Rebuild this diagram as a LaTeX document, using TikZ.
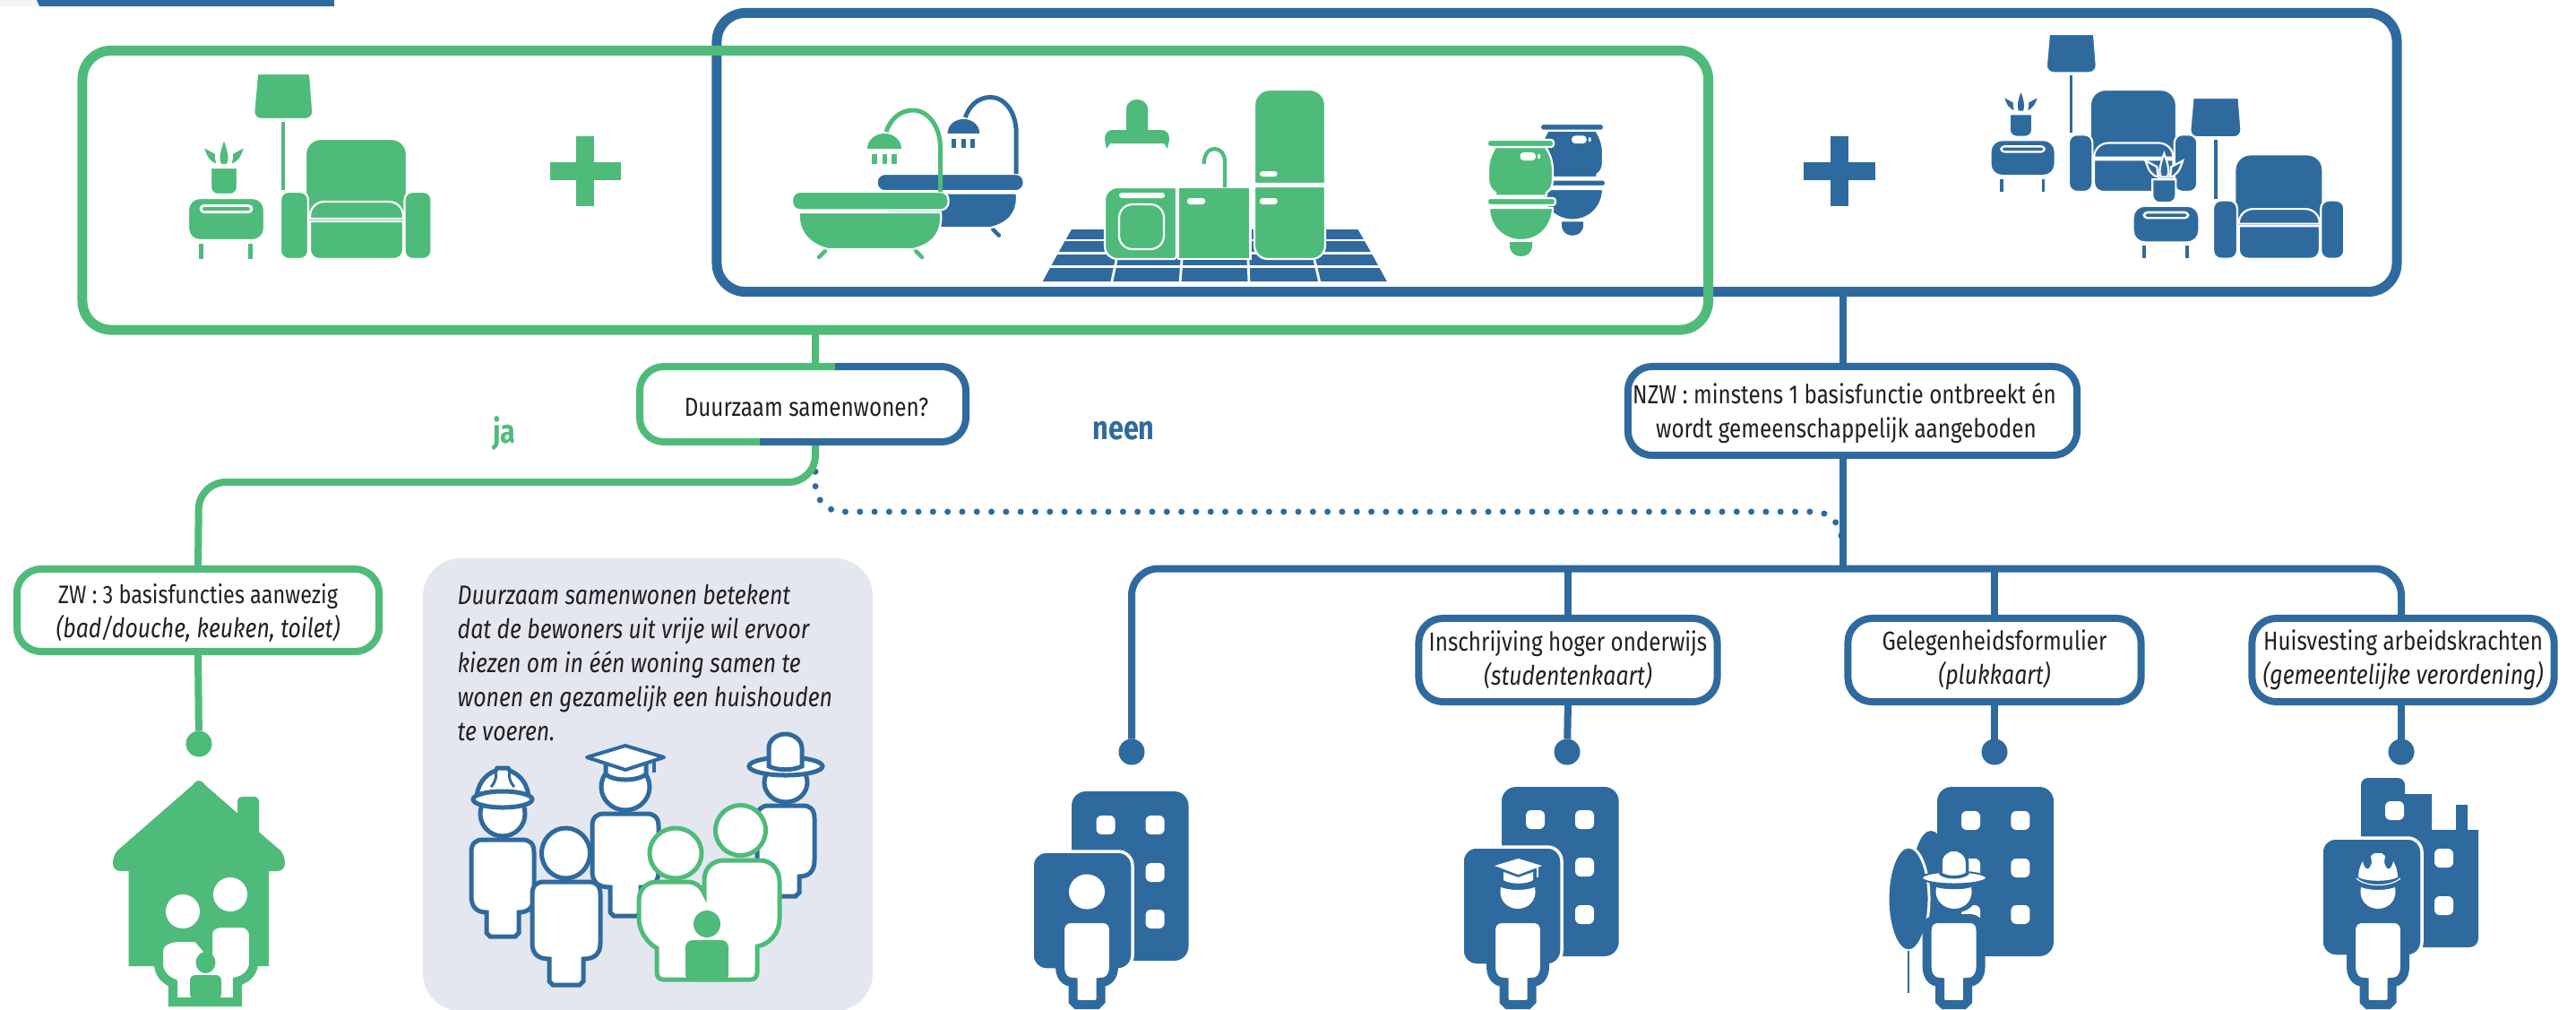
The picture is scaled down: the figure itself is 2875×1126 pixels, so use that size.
\documentclass[tikz,border=0pt]{standalone}
\usepackage{fontspec}
\setmainfont[FakeStretch=0.83]{Fira Sans}
\definecolor{gr}{HTML}{4FBB7A}
\definecolor{bl}{HTML}{2F6A9E}
\definecolor{pan}{HTML}{E4E7EF}
\definecolor{ink}{HTML}{231F20}
\colorlet{ic}{gr}
\newcommand{\ital}[1]{{\fontsize{8.5}{10.8}\selectfont\itshape #1}}
\newcommand{\lowr}{\rule{0pt}{8pt}}
\tikzset{
  icf/.style={fill=ic,draw=white,line width=.022cm},
  whf/.style={fill=white,draw=none},
  gline/.style={draw=gr,line width=.08cm},
  bline/.style={draw=bl,line width=.08cm},
  bigbox/.style={rectangle,rounded corners=.32cm,line width=.11cm,inner sep=0pt,outer sep=0pt},
  lab/.style={rectangle,rounded corners=.27cm,line width=.08cm,fill=white,inner sep=0pt,outer sep=0pt,
     text=ink,align=center,font=\fontsize{8.3}{10.8}\selectfont},
  endot/.style={circle,inner sep=0pt,outer sep=0pt,minimum size=.29cm},
  pers/.style={fill=white,line width=.05cm},
  persb/.style={fill=white,draw=bl,line width=.1cm},
  note/.style={text=ink,anchor=base west,inner sep=0pt,font=\fontsize{8.5}{10}\selectfont\itshape}
}
% torso and legs: cx, top, half width, torso bottom, foot, half leg width
\newcommand{\bodypath}[6]{({#1-#3},{#2+14}) .. controls ({#1-#3},{#2+4}) and ({#1-#3+5},{#2}) .. ({#1-#3+13},{#2}) -- ({#1+#3-13},{#2}) .. controls ({#1+#3-5},{#2}) and ({#1+#3},{#2+4}) .. ({#1+#3},{#2+14}) -- ({#1+#3},{#4-18}) .. controls ({#1+#3},{#4-6}) and ({#1+#3-6},{#4}) .. ({#1+#6},{#4}) -- ({#1+#6},{#5-4}) -- ({#1+#6-4},{#5}) -- ({#1-#6+4},{#5}) -- ({#1-#6},{#5-4}) -- ({#1-#6},{#4}) .. controls ({#1-#3+6},{#4}) and ({#1-#3},{#4-6}) .. ({#1-#3},{#4-18}) -- cycle}
\newcommand{\headcut}[1]{\fill[white] ({#1-19},990) .. controls ({#1-8},994) and ({#1+8},994) .. ({#1+19},990) .. controls ({#1+22},1004) and ({#1+12},1014) .. ({#1},1014) .. controls ({#1-12},1014) and ({#1-22},1004) .. ({#1-19},990) -- cycle;}
\newcommand{\winrc}[2]{\fill[white,rounded corners=.06cm] (#1,#2) rectangle ({#1+21},{#2+21});}
\newcommand{\livingset}{%
  \path[icf] (313,135) rectangle (319.5,213);
  \path[icf] (287,82) -- (346,82) [rounded corners=.09cm] -- (350,133) -- (282.5,133) [sharp corners] -- cycle;
  \path[icf,rounded corners=.17cm] (341,155) rectangle (454,262);
  \path[icf,rounded corners=.09cm] (313,214) rectangle (344,289);
  \path[icf,rounded corners=.09cm] (451.5,214) rectangle (481.5,289);
  \path[icf] (346,244) [rounded corners=.16cm] -- (346,225) -- (450,225) [sharp corners] -- (450,244) -- cycle;
  \path[icf] (346,247) -- (450,247) [rounded corners=.1cm] -- (450,289) -- (346,289) [sharp corners] -- cycle;
  \path[icf,rounded corners=.13cm] (210,221) rectangle (295,268);
  \fill[white,rounded corners=.05cm] (222.5,228) rectangle (282.5,238);
  \fill[ic,rounded corners=.02cm] (226,231) rectangle (279,235);
  \path[icf] (221,271) rectangle (228,290);
  \path[icf] (276,271) rectangle (283,290);
  \path[icf] (235,187) -- (265,187) [rounded corners=.08cm] -- (265,217) -- (235,217) [sharp corners] -- cycle;
  \path[icf] (250,154) .. controls (244,170) and (243,178) .. (246,184) -- (254,184) .. controls (257,178) and (256,170) .. (250,154) -- cycle;
  \path[icf] (226,163) .. controls (230,175) and (233,182) .. (243,184) .. controls (241,178) and (241,175) .. (241,171) -- cycle;
  \path[icf] (274,163) .. controls (270,175) and (267,182) .. (257,184) .. controls (259,178) and (259,175) .. (259,171) -- cycle;
}
\newcommand{\bathset}{%
  \draw[ic,line width=.045cm,line cap=round] (921,280) -- (914,287);
  \draw[ic,line width=.045cm,line cap=round] (1022,280) -- (1029,287);
  \path[icf] (892,237) -- (1050,237) .. controls (1052,255) and (1045,272) .. (1019,278) -- (924,278) .. controls (900,272) and (890,255) .. (892,237) -- cycle;
  \path[icf,rounded corners=.09cm] (884,214) rectangle (1058.6,234.5);
  \draw[ic,line width=.05cm] (1049.5,214) -- (1049.5,165) .. controls (1049.5,140) and (1035,123) .. (1019,123) .. controls (1003,123) and (993,135) .. (989,147);
  \fill[ic] (968,166) .. controls (968,156) and (977,149) .. (987,149) .. controls (997,149) and (1006,156) .. (1006,166) -- cycle;
  \fill[ic] (973,172) rectangle (978.5,183);
  \fill[ic] (984.5,172) rectangle (990,183);
  \fill[ic] (995,172) rectangle (1000.5,183);
}
\newcommand{\toiletset}{%
  \fill[ic] (1685,270) -- (1710,270) -- (1710,274) .. controls (1710,282) and (1704,286) .. (1697.5,286) .. controls (1691,286) and (1685,282) .. (1685,274) -- cycle;
  \path[icf] (1662,232) -- (1733,232) .. controls (1733,252) and (1718,268) .. (1697.5,268) .. controls (1677,268) and (1662,252) .. (1662,232) -- cycle;
  \path[icf] (1669,164) .. controls (1664,172) and (1661,180) .. (1661,190) -- (1661,200) .. controls (1661,207) and (1664,212) .. (1669,215) -- (1669,218.5) -- (1726,218.5) -- (1726,215) .. controls (1731,212) and (1733,207) .. (1733,200) -- (1733,190) .. controls (1733,180) and (1730,172) .. (1725,164) -- cycle;
  \path[icf,rounded corners=.03cm] (1660,156) rectangle (1734,164);
  \path[icf,rounded corners=.03cm] (1660,221) rectangle (1736,229);
  \fill[white,rounded corners=.04cm] (1696.5,170) rectangle (1714,179);
  \fill[white,rounded corners=.01cm] (1716,172) rectangle (1719,177);
}
\begin{document}
\begin{tikzpicture}[x=.01cm,y=-.01cm]
\path[use as bounding box] (0,0) rectangle (2875,1126);
\clip (0,0) rectangle (2875,1126);
% header remnant
\fill[black!4] (0,0) rectangle (42,7);
\fill[bl] (41,0) -- (44,7) -- (373,7) -- (373,0) -- cycle;

% main frames
\node[bigbox,draw=bl,minimum width=18.74cm,minimum height=3.11cm] (bluebox) at (1737.5,170) {};
\node[bigbox,draw=gr,minimum width=18.135cm,minimum height=3.115cm] (greenbox) at (999.25,212.25) {};

% icons
\livingset
\fill[gr] (643,152) rectangle (663,230);
\fill[gr] (613.5,181) rectangle (692.5,201);
\fill[bl] (2043,152) rectangle (2063,230);
\fill[bl] (2013,181) rectangle (2093,201);
\begin{scope}[shift={(2309,38)},scale=.85,shift={(-313,-82)}]
  \colorlet{ic}{bl}\livingset
\end{scope}
\begin{scope}[shift={(2470,109)},scale=.868,shift={(-313,-82)}]
  \colorlet{ic}{bl}\livingset
\end{scope}
\begin{scope}[shift={(978.6,194)},scale=.94,shift={(-884,-214)}]
  \colorlet{ic}{bl}\bathset
\end{scope}
\bathset
% floor
\fill[bl] (1196,256) -- (1515.5,256) -- (1549,314) -- (1162.5,314) -- cycle;
\begin{scope}[draw=white,line width=.028cm]
  \draw (1160,268) -- (1552,268);
  \draw (1160,282.5) -- (1552,282.5);
  \draw (1160,297.5) -- (1552,297.5);
  \draw (1240.5,316) -- (1246,290);
  \draw (1317,316) -- (1319,290);
  \draw (1394,316) -- (1393,290);
  \draw (1473,316) -- (1467,290);
\end{scope}
\fill[white] (1155,254) -- (1196,254) -- (1162.5,316) -- (1155,316) -- cycle;
\fill[white] (1515.5,254) -- (1560,254) -- (1560,316) -- (1549,316) -- cycle;
% kitchen
\path[icf,rounded corners=.17cm] (1400,100) -- (1479,100) [sharp corners] -- (1479,205) -- (1400,205) [rounded corners=.17cm] -- cycle;
\path[icf] (1400,208) -- (1479,208) [rounded corners=.15cm] -- (1479,289) -- (1400,289) [sharp corners] -- cycle;
\path[icf] (1315,209) rectangle (1395.4,289);
\path[icf] (1313,209) [rounded corners=.14cm] -- (1233,209) -- (1233,289) [rounded corners=.03cm] -- (1313,289) [sharp corners] -- cycle;
\fill[white,rounded corners=.03cm] (1249,215) rectangle (1300,221);
\draw[white,line width=.022cm,rounded corners=.15cm] (1249,228) rectangle (1299,278);
\fill[white,rounded corners=.03cm] (1325,221) rectangle (1345,228);
\fill[white,rounded corners=.03cm] (1406,221) rectangle (1425.6,228);
\fill[white,rounded corners=.03cm] (1406,191) rectangle (1425.6,197);
\draw[gr,line width=.042cm] (1367,209) -- (1367,180) .. controls (1367,172) and (1362,166) .. (1355.4,166) .. controls (1349,166) and (1344,172) .. (1343.5,183);
\fill[gr] (1257,145) -- (1257,122) .. controls (1257,114) and (1264,111) .. (1269,111) .. controls (1274,111) and (1281,114) .. (1281,122) -- (1281,145) -- (1296,145) .. controls (1303,145) and (1305,150) .. (1305,156) -- (1303,166) -- (1299,160) -- (1239,160) -- (1235,166) -- (1233,156) .. controls (1233,150) and (1235,145) .. (1242,145) -- cycle;
% toilets
\begin{scope}[shift={(1719,138)},scale=.96,shift={(-1660,-156)}]
  \colorlet{ic}{bl}\toiletset
\end{scope}
\toiletset

% stems behind the boxes
\coordinate (gs) at (910,373);
\coordinate (bs) at (2057,331);
\coordinate (bsT) at (2057,634.5);
\node[endot,fill=gr] (c0) at (222,830) {};
\node[endot,fill=bl] (c1) at (1263,839) {};
\node[endot,fill=bl] (c2) at (1749,839) {};
\node[endot,fill=bl] (c3) at (2226,839) {};
\node[endot,fill=bl] (c4) at (2680,839) {};
\coordinate (d0) at (910,510);
\coordinate (d1) at (2055,590);

\node[lab,minimum width=3.64cm,minimum height=.84cm,fill=none] (duur) at (896,451) {\lowr\hspace*{.08cm}Duurzaam samenwonen?};
\node[lab,draw=bl,minimum width=5.01cm,minimum height=.99cm] (nzw) at (2067.5,458.5) {\lowr NZW : minstens 1 basisfunctie ontbreekt én\hspace*{.18cm}\\wordt gemeenschappelijk aangeboden\hspace*{.14cm}};
\node[lab,draw=gr,minimum width=4.04cm,minimum height=.92cm] (zw) at (221,681) {\lowr{\fontsize{8.05}{10.8}\selectfont ZW : 3 basisfuncties aanwezig}\\\ital{(bad/douche, keuken, toilet)}};
\node[lab,draw=bl,minimum width=3.33cm,minimum height=.93cm] (ins) at (1750,736.5) {Inschrijving hoger onderwijs\\\ital{(studentenkaart)}};
\node[lab,draw=bl,minimum width=3.27cm,minimum height=.93cm] (gel) at (2226,736.5) {Gelegenheidsformulier\\\ital{(plukkaart)}};
\node[lab,draw=bl,minimum width=3.37cm,minimum height=.93cm] (hui) at (2682,736.5) {Huisvesting arbeidskrachten\\\ital{(gemeentelijke verordening)}};

\draw[bl,line width=.07cm,line cap=round,dash pattern=on 0pt off .163cm,rounded corners=.3cm] (d0) -- (910,571) -- (2055,571) -- (d1);
\draw[gline] (gs) -- (gs |- duur.north);
\draw[gline,rounded corners=.3cm] (gs |- duur.south) -- (910,538) -- (222,538) -- (zw.north);
\draw[gline] (zw.south) -- (c0);
\draw[bline] (bs) -- (bs |- nzw.north);
\draw[bline] (bs |- nzw.south) -- (bsT);
\draw[bline,rounded corners=.3cm] (c1) -- (1263,634.5) -- (2680,634.5) -- (c4 |- hui.north);
\draw[bline] (ins.north |- bsT) -- (ins.north);
\draw[bline] (gel.north |- bsT) -- (gel.north);
\draw[bline] (ins.south) -- (c2);
\draw[bline] (gel.south) -- (c3);
\draw[bline] (c4 |- hui.south) -- (c4);
% two-colour frame
\draw[gr,line width=.08cm,rounded corners=.27cm] (932,409) -- (714,409) -- (714,493) -- (848,493);
\draw[bl,line width=.08cm,rounded corners=.27cm] (932,409) -- (1078,409) -- (1078,493) -- (848,493);

\node[text=gr,inner sep=0pt,font=\fontsize{10.5}{12}\selectfont\bfseries] (ja) at (563,484) {ja};
\node[text=bl,inner sep=0pt,font=\fontsize{10.5}{12}\selectfont\bfseries] (neen) at (1254,481) {neen};

% grey note
\fill[pan,rounded corners=.42cm] (472,623) rectangle (974,1128);
\node[note] (n1) at (510,674) {Duurzaam samenwonen betekent};
\node[note] (n2) at (510,712) {dat de bewoners uit vrije wil ervoor};
\node[note] (n3) at (510,750) {kiezen om in één woning samen te};
\node[note] (n4) at (510,788) {wonen en gezamelijk een huishouden};
\node[note] (n5) at (510,826) {te voeren.};

% group of people
\begin{scope}[draw=bl]
  % hat person
  \path[pers,draw=bl] \bodypath{877}{899}{32}{978}{1000}{15};
  \path[pers,draw=bl] (877,873) ellipse [x radius=24,y radius=22];
  \path[pers,draw=bl] (877,855) ellipse [x radius=41,y radius=10];
  \path[pers,draw=bl] (858,855) -- (858,835) .. controls (858,825) and (868,819) .. (876.5,819) .. controls (885,819) and (895,825) .. (895,835) -- (895,855) .. controls (885,860) and (868,860) .. (858,855) -- cycle;
  % graduate
  \path[pers,draw=bl] \bodypath{698}{908}{37}{990}{1022}{17};
  \path[pers,draw=bl] (698,878) ellipse [x radius=27,y radius=26];
  \path[pers,draw=bl] (676,850) -- (676,864) .. controls (685,872) and (711,872) .. (721,864) -- (721,850) -- cycle;
  \path[pers,draw=bl,line width=.04cm,line join=round] (655,845) -- (698,832) -- (741,845) -- (698,859) -- cycle;
  \draw[bl,line width=.04cm] (730,847) -- (730,862);
  % helmet
  \path[pers,draw=bl] \bodypath{561}{937}{35}{1018}{1045}{18};
  \path[pers,draw=bl] (561,908) ellipse [x radius=25,y radius=25];
  \path[pers,draw=bl] (532,892) .. controls (532,875) and (542,864) .. (553,860) -- (555,857) -- (567,857) -- (569,860) .. controls (580,864) and (590,875) .. (590,892) -- cycle;
  \path[pers,draw=bl] (561,892) ellipse [x radius=33,y radius=9];
  \draw[bl,line width=.03cm] (553,860) .. controls (556,870) and (548,878) .. (548,878);
  \draw[bl,line width=.03cm] (569,860) .. controls (566,870) and (574,878) .. (574,878);
  % front person
  \path[pers,draw=bl] \bodypath{632}{984}{38}{1070}{1099}{19};
  \path[pers,draw=bl] (631.5,952) ellipse [x radius=27,y radius=28];
  % green couple with child
  \path[pers,draw=gr] (713,1005) .. controls (713,992) and (722,984) .. (733,984) -- (768,984) .. controls (776,984) and (783,990) .. (786,997) -- (786,982) .. controls (786,968) and (796,960) .. (808,960) -- (848,960) .. controls (861,960) and (870,970) .. (870,984) -- (870,1025) .. controls (870,1042) and (858,1054) .. (845,1056) -- (845,1085) .. controls (845,1090) and (842,1093) .. (838,1093) -- (740,1093) .. controls (736,1093) and (733,1090) .. (733,1085) -- (733,1058) .. controls (722,1052) and (713,1038) .. (713,1025) -- cycle;
  \path[pers,draw=gr] (754,952) ellipse [x radius=29,y radius=28];
  \path[pers,draw=gr] (826.5,926.5) ellipse [x radius=28,y radius=28];
  \fill[gr] (789,1031) ellipse [x radius=15,y radius=15];
  \fill[gr,rounded corners=.08cm] (765,1095) -- (765,1049) -- (813,1049) -- (813,1095) -- cycle;
\end{scope}

% house
\fill[gr] (265,935) -- (265,894) .. controls (265,891) and (267,889) .. (270,889) -- (284,889) .. controls (287,889) and (289,891) .. (289,894) -- (289,935) -- cycle;
\fill[gr] (222,871) .. controls (219,871) and (217,873) .. (215,876) -- (130,950) .. controls (124,960) and (124,972) .. (135,972) -- (143.5,972) -- (143.5,1078) -- (300,1078) -- (300,972) -- (309,972) .. controls (320,972) and (320,960) .. (314,950) -- (229,876) .. controls (227,873) and (225,871) .. (222,871) -- cycle;
\fill[white] (204,1017) ellipse [x radius=19,y radius=19];
\fill[white] (257,998) ellipse [x radius=19,y radius=19];
\path[fill=white,draw=gr,line width=.1cm] (177,1062) .. controls (177,1050) and (190,1046) .. (200,1046) -- (220,1046) -- (232,1060) -- (232,1042) .. controls (232,1034) and (240,1030) .. (248,1030) -- (268,1030) .. controls (278,1030) and (283,1036) .. (283,1044) -- (283,1075) .. controls (283,1085) and (274,1093) .. (265,1095) -- (265,1118) -- (193,1118) -- (193,1097) .. controls (183,1093) and (177,1085) .. (177,1075) -- cycle;
\fill[gr] (229.5,1074) ellipse [x radius=11,y radius=12];
\fill[gr,rounded corners=.06cm] (212,1115) -- (212,1088) -- (247,1088) -- (247,1115) -- cycle;

% building 1
\fill[bl,rounded corners=.16cm] (1196,883) rectangle (1326.5,1072);
\winrc{1223.5}{910}\winrc{1278.6}{910}\winrc{1278.6}{963}\winrc{1278.6}{1015}
\path[fill=bl,draw=white,line width=.035cm,rounded corners=.16cm] (1152,950) rectangle (1264,1082);
\fill[white] (1213,995) ellipse [x radius=20,y radius=19.5];
\path[persb] \bodypath{1213}{1025}{30}{1096}{1121}{15.5};

% building 2
\fill[bl,rounded corners=.16cm] (1676,878) rectangle (1806.6,1067);
\winrc{1703}{904}\winrc{1758}{904}\winrc{1758}{957}\winrc{1758}{1010}
\path[fill=bl,draw=white,line width=.035cm,rounded corners=.16cm] (1632,945) rectangle (1743,1077);
\path[persb] \bodypath{1694}{1025}{30}{1096}{1121}{15.5};
\headcut{1694}
\fill[white] (1668,966) -- (1694.5,958) -- (1721,966) -- (1694.5,976) -- cycle;
\fill[white] (1678,973) -- (1694.5,979) -- (1711,973) -- (1711,982) .. controls (1704,987) and (1685,987) .. (1678,982) -- cycle;
\draw[white,line width=.012cm] (1716,968) -- (1716,979);

% building 3
\fill[bl,rounded corners=.16cm] (2162,878) rectangle (2292,1067);
\winrc{2189}{905}\winrc{2244.4}{905}\winrc{2189}{958}\winrc{2244.4}{958}\winrc{2189}{1010}\winrc{2244.4}{1010}
\fill[bl] (2155,985) ellipse [x radius=21,y radius=58];
\path[fill=bl,draw=white,line width=.03cm] (2130,1003) ellipse [x radius=23,y radius=58];
\draw[bl,line width=.025cm] (2130,1061) -- (2130,1108);
\path[fill=white,draw=bl,line width=.07cm] (2181,1002) ellipse [x radius=20,y radius=13];
\fill[white] (2161,990) .. controls (2170,993) and (2192,993) .. (2200,990) .. controls (2203,1004) and (2193,1014) .. (2181,1014) .. controls (2169,1014) and (2158,1004) .. (2161,990) -- cycle;
\path[persb] \bodypath{2180.6}{1025}{30}{1096}{1121}{15.5};
\path[fill=white,draw=bl,line width=.02cm] (2181,979.5) ellipse [x radius=36,y radius=7];
\path[fill=white,draw=bl,line width=.035cm] (2166,975) -- (2166,962) .. controls (2166,954) and (2173,948) .. (2180.5,948) .. controls (2188,948) and (2195.5,954) .. (2195.5,962) -- (2195.5,975) .. controls (2188,980) and (2173,980) .. (2166,975) -- cycle;

% building 4
\fill[bl,rounded corners=.08cm] (2635,1060) -- (2635,868) -- (2684,868) [sharp corners] -- (2684,886) -- (2714,886) -- (2714,926) -- (2741,926) -- (2741,898) -- (2754,898) -- (2754,926) -- (2766,926) [rounded corners=.1cm] -- (2766,1057) -- (2635,1057) -- cycle;
\winrc{2662}{894}\winrc{2717}{947}\winrc{2717}{1000}
\path[fill=bl,draw=white,line width=.035cm,rounded corners=.16cm] (2591,935) rectangle (2703,1067);
\path[persb] \bodypath{2654}{1025}{30}{1096}{1121}{15.5};
\headcut{2654}
\fill[white] (2632,979) .. controls (2632,972) and (2634,966) .. (2637,961) .. controls (2639,972) and (2645,972) .. (2647,962) -- (2646,955) -- (2650,952) -- (2658,952) -- (2662,955) -- (2661,962) .. controls (2663,972) and (2669,972) .. (2671,961) .. controls (2674,966) and (2676,972) .. (2676,979) .. controls (2665,984) and (2643,984) .. (2632,979) -- cycle;
\draw[white,line width=.012cm] (2630,980) .. controls (2640,990) and (2668,990) .. (2679,980);
\end{tikzpicture}
\end{document}
